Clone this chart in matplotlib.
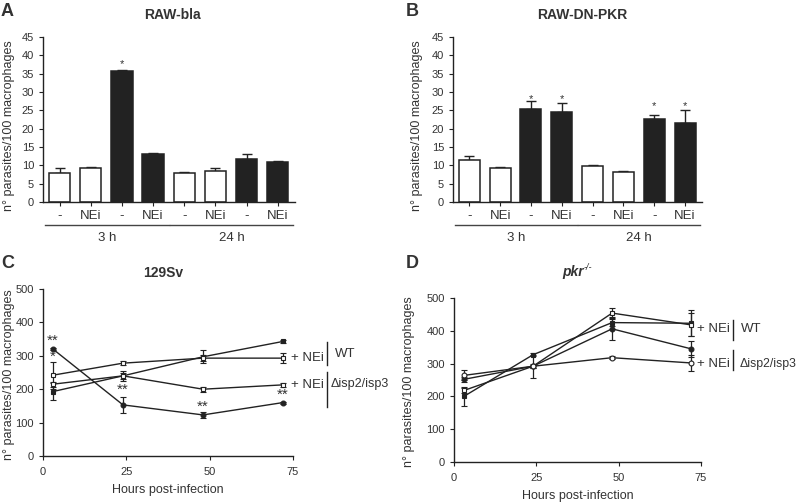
import numpy as np
import matplotlib
matplotlib.use("Agg")
import matplotlib.pyplot as plt

plt.rcParams['font.family'] = ['Liberation Sans', 'DejaVu Sans']

# ---- bar panels (A, B) ----
bar_labels = ["-", "NEi", "-", "NEi", "-", "NEi", "-", "NEi"]
bar_filled = [False, False, True, True, False, False, True, True]
groups = ["3 h", "24 h"]

rawbla_vals = [8.0, 9.2, 35.8, 13.0, 7.8, 8.5, 11.7, 10.8]
rawbla_err = [1.2, 0.3, 0.15, 0.3, 0.4, 0.9, 1.3, 0.5]
rawbla_stars = [None, None, 37.5, None, None, None, None, None]

dnpkr_vals = [11.4, 9.3, 25.4, 24.6, 9.7, 8.1, 22.6, 21.5]
dnpkr_err = [1.2, 0.3, 2.2, 2.3, 0.5, 0.3, 1.2, 3.7]
dnpkr_stars = [None, None, 28.2, 28.2, None, None, 26.2, 26.2]

# ---- line panels (C, D) ----
hours = [3, 24, 48, 72]

sv_wt = [193, 240, 297, 343]
sv_wt_err = [25, 8, 20, 4]
sv_wt_nei = [242, 278, 293, 293]
sv_wt_nei_err = [40, 5, 10, 15]
sv_ko = [320, 153, 123, 160]
sv_ko_err = [4, 23, 10, 3]
sv_ko_nei = [215, 240, 200, 213]
sv_ko_nei_err = [8, 14, 7, 7]

pkr_wt = [200, 327, 425, 423]
pkr_wt_err = [28, 5, 10, 40]
pkr_wt_nei = [218, 292, 454, 418]
pkr_wt_nei_err = [8, 6, 15, 35]
pkr_ko = [252, 292, 406, 345]
pkr_ko_err = [8, 35, 35, 25]
pkr_ko_nei = [264, 292, 318, 302]
pkr_ko_nei_err = [15, 5, 5, 25]

W, H = 800, 503
fig = plt.figure(figsize=(8.0, 5.03), dpi=100)

ink = '#222222'
txt = '#333333'
ylab = "n\u00b0 parasites/100 macrophages"


def fx(px):
    return px / W


def fy(py):
    return 1 - py / H


def style(ax):
    for s in ['top', 'right']:
        ax.spines[s].set_visible(False)
    for s in ['left', 'bottom']:
        ax.spines[s].set_color(ink)
        ax.spines[s].set_linewidth(1.0)
    ax.tick_params(direction='out', length=3, width=0.8, colors=ink,
                   labelcolor=txt, labelsize=8)


def bar_panel(rect, vals, err, stars, title, title_x, letter, letter_x, lab_x):
    ax = fig.add_axes(rect)
    x = np.arange(len(vals))
    colors = [ink if f else 'white' for f in bar_filled]
    ax.bar(x, vals, width=0.68, color=colors, edgecolor=ink, linewidth=1.1, zorder=2)
    ax.errorbar(x, vals, yerr=[np.zeros(len(err)), err], fmt='none', ecolor=ink,
                elinewidth=1.0, capsize=3.5, capthick=1.0, zorder=1)
    for xi, s in zip(x, stars):
        if s is not None:
            ax.text(xi, s, '*', ha='center', va='center', fontsize=8, color=txt)
    ax.set_xlim(-0.53, 7.55)
    ax.set_ylim(0, 45)
    ax.set_yticks(np.arange(0, 46, 5))
    ax.set_xticks(x)
    ax.set_xticklabels(bar_labels, fontsize=9.5)
    style(ax)
    ax.tick_params(axis='x', labelsize=9.5, pad=3)
    ax.set_ylabel(ylab, fontsize=9, color=txt)
    ax.yaxis.set_label_coords(lab_x, 0.46)
    # group brackets under the tick labels
    for gi, g in enumerate(groups):
        x0, x1 = gi * 4 - 0.47, gi * 4 + 3.5
        ax.plot([x0, x1], [-6.2, -6.2], color='#444444', lw=1.0, clip_on=False,
                transform=ax.transData)
        ax.text((x0 + x1) / 2, -9.8, g, ha='center', va='center', fontsize=9.5,
                color=txt, clip_on=False)
    fig.text(fx(title_x), fy(15), title, ha='center', va='center',
             fontsize=10, fontweight='bold', color=txt)
    fig.text(fx(letter_x), fy(11), letter, ha='left', va='center',
             fontsize=13, fontweight='bold', color=txt)
    return ax


bar_panel([fx(43), fy(202), fx(252), 165 / H], rawbla_vals, rawbla_err, rawbla_stars,
          "RAW-bla", 172, "A", 1, -0.11)
bar_panel([fx(453), fy(202), fx(249), 165 / H], dnpkr_vals, dnpkr_err, dnpkr_stars,
          "RAW-DN-PKR", 582, "B", 406, -0.12)


def line_panel(rect, series, lab_x):
    ax = fig.add_axes(rect)
    for vals, err, marker, filled in series:
        ax.errorbar(hours, vals, yerr=err, color=ink, lw=1.0, elinewidth=0.9,
                    capsize=2.5, capthick=0.9, marker=marker, markersize=3.5,
                    mfc=ink if filled else 'white', mec=ink, mew=0.8)
    ax.set_xlim(0, 75)
    ax.set_ylim(0, 500)
    ax.set_xticks([0, 25, 50, 75])
    ax.set_yticks(np.arange(0, 501, 100))
    style(ax)
    ax.tick_params(axis='x', pad=5)
    ax.set_ylabel(ylab, fontsize=9, color=txt)
    ax.yaxis.set_label_coords(lab_x, 0.49)
    ax.set_xlabel("Hours post-infection", fontsize=9, color=txt, labelpad=5)
    return ax


axC = line_panel([fx(43), fy(456), fx(250), 167 / H], [
    (sv_wt, sv_wt_err, 's', True),
    (sv_wt_nei, sv_wt_nei_err, 's', False),
    (sv_ko, sv_ko_err, 'o', True),
    (sv_ko_nei, sv_ko_nei_err, 's', False),
], -0.112)

# significance marks in C
for xh, yv, s in [(3, 345, '**'), (3, 296, '*'), (24, 197, '**'),
                  (48, 148, '**'), (72, 183, '**')]:
    axC.text(xh, yv, s, ha='center', va='center', fontsize=11, color=txt)

axC.text(74.5, 293, "+ NEi", ha='left', va='center', fontsize=9.5, color=txt, clip_on=False)
axC.text(74.5, 213, "+ NEi", ha='left', va='center', fontsize=9.5, color=txt, clip_on=False)
axC.plot([85.2, 85.2], [272, 341], color=ink, lw=1.0, clip_on=False)
axC.plot([85.2, 85.2], [147, 251], color=ink, lw=1.0, clip_on=False)
axC.text(87.6, 305, "WT", ha='left', va='center', fontsize=9.5, color=txt, clip_on=False)
axC.text(86.4, 216, "\u0394isp2/isp3", ha='left', va='center', fontsize=9, color=txt,
         clip_on=False)
fig.text(fx(163), fy(273), "129Sv", ha='center', va='center', fontsize=10,
         fontweight='bold', color=txt)
fig.text(fx(1), fy(263), "C", ha='left', va='center', fontsize=13, fontweight='bold',
         color=txt)

axD = line_panel([fx(454), fy(462), fx(247), 164 / H], [
    (pkr_wt, pkr_wt_err, 's', True),
    (pkr_wt_nei, pkr_wt_nei_err, 's', False),
    (pkr_ko, pkr_ko_err, 'o', True),
    (pkr_ko_nei, pkr_ko_nei_err, 'o', False),
], -0.158)

axD.text(73.8, 406, "+ NEi", ha='left', va='center', fontsize=9.5, color=txt, clip_on=False)
axD.text(73.8, 299, "+ NEi", ha='left', va='center', fontsize=9.5, color=txt, clip_on=False)
axD.plot([84.7, 84.7], [372, 433], color=ink, lw=1.0, clip_on=False)
axD.plot([84.7, 84.7], [281, 342], color=ink, lw=1.0, clip_on=False)
axD.text(87.2, 406, "WT", ha='left', va='center', fontsize=9.5, color=txt, clip_on=False)
axD.text(86.8, 299, "\u0394isp2/isp3", ha='left', va='center', fontsize=8.8, color=txt,
         clip_on=False)
fig.text(fx(584), fy(272), "pkr", ha='right', va='center', fontsize=10,
         fontweight='bold', fontstyle='italic', color=txt)
fig.text(fx(584), fy(268), "-/-", ha='left', va='center', fontsize=6.5,
         fontstyle='italic', color=txt)
fig.text(fx(406), fy(263), "D", ha='left', va='center', fontsize=13, fontweight='bold',
         color=txt)

fig.savefig("out.png", dpi=100, facecolor='white')
